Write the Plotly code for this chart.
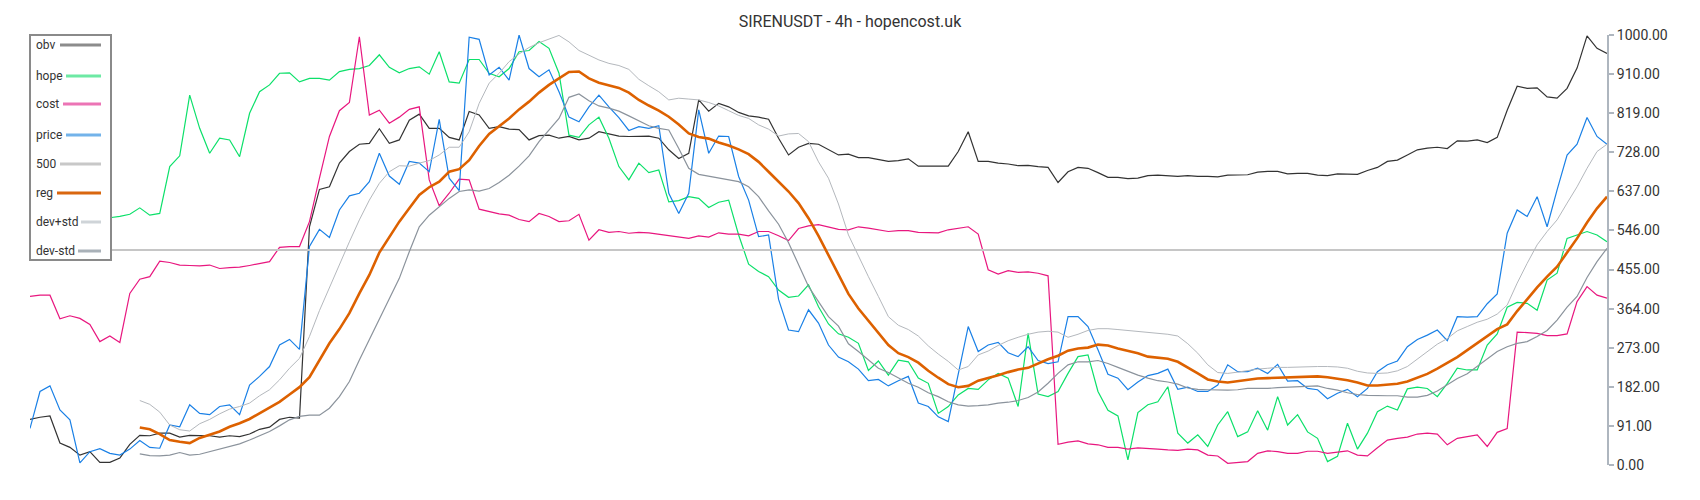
import plotly.graph_objects as go

# ---------------- data (normalised 0..1000) ----------------
obv = [106, 111, 114, 51, 41, 23, 31, 6, 6, 16, 48,
       69, 68, 74, 74, 65, 69, 68, 68, 65, 68, 66, 72, 83, 88, 106, 111,
       109, 554, 641, 647, 702, 729, 746, 748, 782, 748, 756, 802, 816, 783, 783, 762, 756, 822, 814, 783, 787, 781, 780, 756, 766, 767,
       760, 764, 756, 760, 775, 770, 765, 764, 765, 765, 760, 733, 713, 725, 849, 823, 841, 833, 820, 812, 809, 804, 760, 721, 739, 748,
       746, 734, 721, 723, 715, 715, 711, 706, 708, 712, 695, 695, 695, 695, 729, 775, 706, 706, 702, 700, 696, 697, 694, 692, 657, 682,
       692, 690, 680, 669, 669, 666, 667, 673, 674, 672, 671, 673, 671, 671, 670, 674, 674, 675, 681, 683, 683, 677, 678, 678, 674, 673,
       677, 677, 676, 685, 692, 706, 709, 721, 733, 737, 739, 736, 754, 753, 756, 750, 762, 825, 881, 876, 877, 856, 853, 876, 923, 998, 969, 957]

hope = [525, 535, 545, 550, 555, 560, 562, 565, 575, 578, 583, 598, 581, 585,
        694, 719, 860, 783, 725, 760, 756, 717, 818, 868, 884, 911, 912,
        891, 899, 899, 895, 915, 920, 922, 929, 954, 925, 912, 922, 926, 909, 961, 891, 888, 943, 943, 911, 903, 922, 961, 964, 985, 969,
        911, 767, 762, 791, 809, 760, 694, 663, 702, 680, 686, 612, 615, 624, 620, 599, 611, 616, 535, 467, 450, 438, 407, 390, 393, 419,
        368, 328, 305, 297, 283, 220, 242, 209, 244, 240, 202, 190, 120, 136, 163, 178, 176, 198, 213, 202, 136, 306, 165, 159, 171, 213,
        252, 256, 171, 127, 114, 12, 122, 140, 147, 182, 74, 51, 70, 43, 93, 124, 66, 77, 126, 81, 159, 93, 117, 77, 62, 8,
        20, 97, 37, 74, 124, 137, 128, 177, 181, 178, 159, 190, 225, 221, 221, 279, 305, 367, 378, 376, 360, 430, 446, 527, 535, 543, 535, 519]

cost = [392, 395, 395, 340, 347, 341, 327, 287, 300, 285, 399, 432, 438, 474, 471, 465, 464, 463, 465, 457, 459, 460, 464, 469, 473, 506, 508,
        508, 566, 667, 764, 824, 843, 996, 814, 825, 795, 809, 827, 833, 663, 603, 632, 665, 663, 595, 589, 584, 581, 571, 566, 585, 578,
        566, 568, 583, 523, 547, 541, 543, 539, 541, 540, 537, 533, 531, 527, 533, 530, 540, 537, 537, 533, 543, 543, 533, 522, 550, 556,
        559, 554, 548, 547, 554, 551, 547, 543, 545, 545, 541, 541, 540, 547, 550, 554, 537, 454, 444, 452, 448, 449, 446, 440, 48, 53,
        56, 49, 47, 41, 41, 37, 40, 39, 37, 35, 34, 37, 35, 23, 21, 4, 6, 8, 27, 33, 31, 27, 27, 32, 32, 27,
        30, 33, 23, 21, 40, 58, 62, 65, 72, 74, 72, 47, 62, 66, 70, 43, 76, 85, 309, 308, 306, 301, 301, 305, 380, 415, 395, 388]

price = [85, 171, 184, 128, 105, 5, 31, 38, 27, 23, 37, 57, 41, 39, 93, 89, 140, 120, 117, 136, 140, 117, 186, 206, 229, 279, 292,
         269, 508, 548, 529, 593, 626, 632, 659, 725, 672, 653, 706, 702, 682, 804, 667, 638, 995, 990, 907, 925, 895, 1000, 922, 903, 919,
         868, 809, 798, 833, 860, 833, 808, 778, 787, 783, 789, 632, 585, 632, 826, 725, 765, 764, 671, 616, 531, 535, 385, 314, 310, 361,
         330, 279, 251, 240, 223, 196, 199, 184, 196, 206, 144, 136, 112, 101, 213, 322, 264, 279, 285, 261, 252, 275, 243, 236, 240, 345,
         345, 322, 268, 211, 202, 175, 193, 208, 213, 223, 176, 181, 171, 171, 186, 233, 217, 217, 225, 213, 234, 195, 196, 178, 175, 154,
         167, 176, 159, 178, 217, 233, 242, 275, 292, 302, 314, 289, 345, 344, 345, 375, 398, 539, 593, 578, 624, 554, 640, 721, 746, 808, 764, 746]

_pad = [None] * 11
reg = _pad + [87, 83, 72, 58, 54, 51, 63, 70, 78, 89, 97, 107, 120, 132, 147, 164,
              181, 204, 244, 283, 316, 353, 399, 442, 494, 531, 566, 597, 628, 646, 659, 682, 688, 709, 742, 770, 787, 806, 827, 845, 866, 884,
              899, 914, 915, 899, 889, 883, 877, 866, 849, 836, 824, 810, 792, 771, 763, 759, 750, 743, 734, 723, 705, 682, 658, 636, 609, 574,
              533, 488, 440, 398, 364, 336, 306, 279, 260, 251, 238, 219, 203, 188, 181, 184, 196, 202, 209, 216, 222, 226, 236, 246, 254, 266,
              271, 273, 280, 278, 271, 266, 260, 252, 249, 247, 240, 227, 213, 199, 194, 192, 195, 198, 201, 202, 203, 203, 204, 206, 206, 204,
              201, 197, 192, 185, 185, 187, 189, 194, 203, 212, 224, 237, 251, 267, 283, 300, 316, 327, 358, 385, 413, 438, 461, 494, 527, 564, 597, 624]

dev_plus = _pad + [150, 141, 123, 93, 82, 79, 96, 106, 119, 130, 136, 144, 161, 175, 198, 225,
                   248, 299, 359, 413, 469, 519, 570, 616, 655, 682, 696, 695, 702, 708, 721, 739, 739, 775, 841, 888, 911, 938, 956, 971, 982, 991,
                   999, 984, 964, 953, 942, 934, 929, 920, 897, 882, 868, 849, 853, 851, 849, 843, 835, 824, 813, 806, 791, 781, 765, 770, 771, 752,
                   705, 667, 607, 535, 485, 438, 392, 345, 325, 315, 300, 277, 258, 241, 221, 229, 256, 265, 278, 289, 297, 304, 309, 311, 309, 297,
                   304, 313, 317, 317, 315, 313, 311, 308, 306, 304, 300, 282, 260, 233, 215, 213, 216, 220, 223, 225, 227, 227, 228, 229, 229, 229,
                   228, 225, 218, 214, 213, 214, 219, 229, 246, 264, 281, 294, 312, 322, 332, 339, 351, 372, 423, 469, 512, 543, 570, 609, 647, 690, 729, 746]

dev_minus = _pad + [26, 22, 21, 23, 29, 23, 25, 31, 37, 43, 49, 58, 68, 78, 91, 105,
                    113, 116, 116, 132, 159, 194, 244, 291, 337, 384, 434, 496, 554, 581, 601, 620, 636, 640, 637, 643, 657, 674, 695, 719, 752, 779,
                    806, 855, 863, 847, 835, 830, 823, 812, 800, 789, 783, 779, 736, 690, 676, 672, 668, 664, 659, 647, 624, 591, 560, 517, 467, 415,
                    380, 345, 323, 282, 264, 244, 225, 215, 202, 190, 181, 168, 159, 147, 140, 137, 138, 140, 144, 146, 150, 157, 170, 190, 213, 233,
                    240, 240, 243, 236, 227, 218, 209, 202, 196, 193, 188, 179, 176, 175, 174, 174, 175, 178, 178, 178, 180, 181, 182, 184, 184, 178,
                    174, 168, 164, 162, 161, 161, 161, 158, 158, 162, 172, 187, 201, 212, 229, 246, 264, 275, 283, 287, 299, 313, 337, 367, 392, 436, 473, 504]

level_500 = [500] * len(price)
x = list(range(len(price)))

tick_labels = ["0.00", "91.00", "182.00", "273.00", "364.00", "455.00",
               "546.00", "637.00", "728.00", "819.00", "910.00", "1000.00"]
y_max = 1000

series_names = ["obv", "hope", "cost", "price", "500", "reg", "dev+std", "dev-std"]
series_data = [obv, hope, cost, price, level_500, reg, dev_plus, dev_minus]

# ---------------- styles ----------------
line_colors = ["#333333", "#0ce06a", "#e8177f", "#1a80e6", "#c6c6c6", "#dd6100", "#b4b8bd", "#8b939c"]
line_widths = [1.2, 1.2, 1.2, 1.2, 2, 2.6, 1, 1.2]
legend_colors = ["#8c8c8c", "#6de9a4", "#ec74b5", "#73b3ea", "#c8c8c8", "#d9670f", "#cfd4d8", "#a9b1b8"]
legend_line_start = [60, 66, 63, 66, 60, 57, 81, 78]   # px
legend_rows_y = [45, 76, 104, 135, 164, 193, 222, 251]  # px

W, H = 1700, 500
ML, MR, MT, MB = 30, 93, 35, 35
PW, PH = W - ML - MR, H - MT - MB


def pxx(v):
    return (v - ML) / PW


def pxy(v):
    return (H - MB - v) / PH


FONT = "Roboto, 'Open Sans', sans-serif"

fig = go.Figure()
for name, data, col, lw in zip(series_names, series_data, line_colors, line_widths):
    fig.add_trace(go.Scatter(x=x, y=data, mode="lines", name=name,
                             line=dict(color=col, width=lw), connectgaps=False,
                             hoverinfo="skip", showlegend=False))

shapes = [dict(type="rect", xref="paper", yref="paper",
               x0=pxx(30), x1=pxx(111), y0=pxy(260), y1=pxy(35),
               line=dict(color="#8a8a8a", width=2), fillcolor="white", layer="above")]
annotations = []
for name, lc, ls, ry in zip(series_names, legend_colors, legend_line_start, legend_rows_y):
    shapes.append(dict(type="line", xref="paper", yref="paper",
                       x0=pxx(ls), x1=pxx(101), y0=pxy(ry), y1=pxy(ry),
                       line=dict(color=lc, width=3), layer="above"))
    annotations.append(dict(text=name, xref="paper", yref="paper", x=pxx(34), y=pxy(ry),
                            xanchor="left", yanchor="middle", showarrow=False,
                            font=dict(family=FONT, size=12, color="#333333")))

fig.update_layout(
    width=W, height=H,
    margin=dict(l=ML, r=MR, t=MT, b=MB, pad=0),
    paper_bgcolor="white", plot_bgcolor="white",
    title=dict(text="SIRENUSDT - 4h - hopencost.uk", x=0.5, xref="container", xanchor="center",
               y=1 - 21 / H, yref="container", yanchor="middle",
               font=dict(family=FONT, size=16, color="#333333")),
    xaxis=dict(visible=False, range=[0, len(x) - 1], showgrid=False, zeroline=False),
    yaxis=dict(side="right", range=[0, y_max], showgrid=False, zeroline=False,
               showline=True, linecolor="#aeb6bf", linewidth=2,
               ticks="outside", ticklen=5, tickwidth=2, tickcolor="#aeb6bf",
               tickvals=[i * y_max / (len(tick_labels) - 1) for i in range(len(tick_labels))],
               ticktext=tick_labels,
               tickfont=dict(family=FONT, size=14, color="#333333")),
    shapes=shapes, annotations=annotations,
    hovermode=False, showlegend=False,
)

fig.write_html("out.html", config={"displayModeBar": False},
               post_script="document.body.style.margin='0px';")
